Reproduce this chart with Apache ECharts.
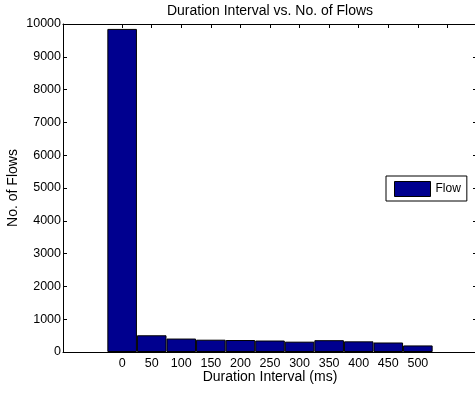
<!DOCTYPE html>
<html>
<head>
<meta charset="utf-8">
<script src="https://cdn.jsdelivr.net/npm/echarts@6/dist/echarts.min.js"></script>
<style>html,body{margin:0;padding:0;background:#fff;}#c{width:475px;height:394px;}</style>
</head>
<body>
<div id="c"></div>
<script>
var categories = ['0','50','100','150','200','250','300','350','400','450','500'];
var flowCounts = [9850, 510, 410, 375, 365, 350, 315, 360, 325, 290, 200];
var seriesName = 'Flow';
var titleText = 'Duration Interval vs. No. of Flows';
var xAxisTitle = 'Duration Interval (ms)';
var yAxisTitle = 'No. of Flows';
var yMin = 0, yMax = 10000, yStep = 1000;
var xMin = -2, xMax = 12;
var topTickIdx = [0,1,2,3,4,5,6,7,8,9,10,11];

var FONT = 'Liberation Sans, Arial, Helvetica, sans-serif';
var gridLeft = 63, gridTop = 24, gridW = 414, gridH = 328;
var barW = gridW / (xMax - xMin);

var data = flowCounts.map(function (v, i) { return [i, v]; });
var labelIdx = categories.map(function (c, i) { return i; });

var chart = echarts.init(document.getElementById('c'), null, {renderer: 'canvas'});
chart.setOption({
  animation: false,
  backgroundColor: '#fff',
  title: {
    text: titleText, left: gridLeft + gridW / 2, textAlign: 'center', top: 4, padding: 0,
    textStyle: {fontFamily: FONT, fontSize: 14, fontWeight: 'normal', color: '#000'}
  },
  legend: {
    data: [{name: seriesName, icon: 'rect'}], left: 386, top: 176, orient: 'vertical',
    itemWidth: 36, itemHeight: 15, padding: [5, 6, 4, 8], itemGap: 0,
    borderColor: '#000', borderWidth: 1, backgroundColor: '#fff', borderRadius: 0,
    textStyle: {fontFamily: FONT, fontSize: 12, color: '#000'},
    itemStyle: {borderColor: '#000', borderWidth: 1}
  },
  grid: {left: gridLeft, top: gridTop, width: gridW, height: gridH, containLabel: false, outerBoundsMode: 'none'},
  xAxis: [{
    type: 'value', min: xMin, max: xMax, interval: 1, position: 'bottom',
    name: xAxisTitle, nameLocation: 'middle', nameGap: 25, nameMoveOverlap: false,
    nameTextStyle: {fontFamily: FONT, fontSize: 14, color: '#000', verticalAlign: 'middle'},
    axisLine: {show: true, onZero: false, lineStyle: {color: '#000', width: 1}},
    axisTick: {show: false},
    axisLabel: {
      customValues: labelIdx, margin: 5,
      formatter: function (v) { var i = Math.round(v); return categories[i] !== undefined ? categories[i] : ''; },
      fontFamily: FONT, fontSize: 12.5, color: '#000'
    },
    splitLine: {show: false}
  }, {
    type: 'value', min: xMin, max: xMax, interval: 1, position: 'top',
    axisLine: {show: true, onZero: false, lineStyle: {color: '#000', width: 1}},
    axisTick: {show: true, inside: true, length: 4, customValues: topTickIdx, lineStyle: {color: '#000'}},
    axisLabel: {show: false},
    splitLine: {show: false}
  }],
  yAxis: [{
    type: 'value', min: yMin, max: yMax, interval: yStep, position: 'left',
    name: yAxisTitle, nameLocation: 'middle', nameGap: 50, nameMoveOverlap: false,
    nameTextStyle: {fontFamily: FONT, fontSize: 14, color: '#000', verticalAlign: 'middle'},
    axisLine: {show: true, onZero: false, lineStyle: {color: '#000', width: 1}},
    axisTick: {show: true, inside: true, length: 4, lineStyle: {color: '#000'}},
    axisLabel: {margin: 2, fontFamily: FONT, fontSize: 12.5, color: '#000', formatter: function (v) { return String(v); }},
    splitLine: {show: false}
  }, {
    type: 'value', min: yMin, max: yMax, interval: yStep, position: 'right',
    axisLine: {show: true, onZero: false, lineStyle: {color: '#000', width: 1}},
    axisTick: {show: true, inside: true, length: 4, lineStyle: {color: '#000'}},
    axisLabel: {show: false},
    splitLine: {show: false}
  }],
  series: [{
    name: seriesName, type: 'bar', xAxisIndex: 0, yAxisIndex: 0,
    data: data, barWidth: barW,
    itemStyle: {color: '#00008F', borderColor: '#000', borderWidth: 1}
  }]
});
</script>
</body>
</html>
